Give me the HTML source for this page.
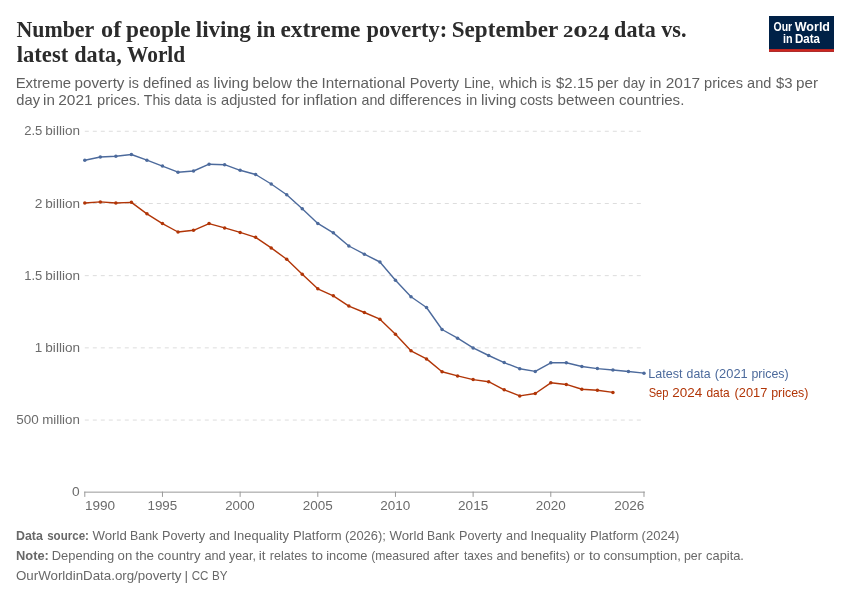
<!DOCTYPE html>
<html lang="en"><head><meta charset="utf-8"><title>Number of people living in extreme poverty</title>
<style>html,body{margin:0;padding:0;background:#fff;}svg{display:block;}
.ss{font-family:"Liberation Sans",sans-serif;}.sf{font-family:"Liberation Serif",serif;}</style></head>
<body>
<svg width="850" height="600" viewBox="0 0 850 600">
<rect width="850" height="600" fill="#ffffff"/>
<line x1="84.8" x2="644.2" y1="131.25" y2="131.25" stroke="#dddddd" stroke-width="1" stroke-dasharray="4 4"/>
<line x1="84.8" x2="644.2" y1="203.5" y2="203.5" stroke="#dddddd" stroke-width="1" stroke-dasharray="4 4"/>
<line x1="84.8" x2="644.2" y1="275.65" y2="275.65" stroke="#dddddd" stroke-width="1" stroke-dasharray="4 4"/>
<line x1="84.8" x2="644.2" y1="347.85" y2="347.85" stroke="#dddddd" stroke-width="1" stroke-dasharray="4 4"/>
<line x1="84.8" x2="644.2" y1="420.05" y2="420.05" stroke="#dddddd" stroke-width="1" stroke-dasharray="4 4"/>
<line x1="84.3" x2="644.8" y1="492.15" y2="492.15" stroke="#999999" stroke-width="1"/>
<line x1="84.80" x2="84.80" y1="491.65" y2="496.9" stroke="#999999" stroke-width="1"/>
<line x1="162.46" x2="162.46" y1="491.65" y2="496.9" stroke="#999999" stroke-width="1"/>
<line x1="240.13" x2="240.13" y1="491.65" y2="496.9" stroke="#999999" stroke-width="1"/>
<line x1="317.80" x2="317.80" y1="491.65" y2="496.9" stroke="#999999" stroke-width="1"/>
<line x1="395.46" x2="395.46" y1="491.65" y2="496.9" stroke="#999999" stroke-width="1"/>
<line x1="473.12" x2="473.12" y1="491.65" y2="496.9" stroke="#999999" stroke-width="1"/>
<line x1="550.79" x2="550.79" y1="491.65" y2="496.9" stroke="#999999" stroke-width="1"/>
<line x1="643.99" x2="643.99" y1="491.65" y2="496.9" stroke="#999999" stroke-width="1"/>
<rect x="769" y="16" width="65" height="35.8" fill="#002147"/>
<rect x="769" y="49.1" width="65" height="2.7" fill="#CE261E"/>
<polyline points="84.80,203.00 100.33,201.90 115.87,203.00 131.40,202.35 146.93,213.85 162.46,223.55 178.00,232.00 193.53,230.30 209.06,223.60 224.60,227.95 240.13,232.45 255.66,237.30 271.20,247.90 286.73,259.30 302.26,274.20 317.80,288.80 333.33,295.80 348.86,306.10 364.39,312.50 379.93,319.20 395.46,334.35 410.99,350.80 426.53,358.90 442.06,371.80 457.59,375.90 473.12,379.60 488.66,381.70 504.19,389.80 519.72,395.90 535.26,393.50 550.79,382.80 566.32,384.45 581.86,389.25 597.39,390.30 612.92,392.40" fill="none" stroke="#B13507" stroke-width="1.4" stroke-linejoin="round" stroke-linecap="round"/>
<circle cx="84.80" cy="203.00" r="1.75" fill="#B13507"/>
<circle cx="100.33" cy="201.90" r="1.75" fill="#B13507"/>
<circle cx="115.87" cy="203.00" r="1.75" fill="#B13507"/>
<circle cx="131.40" cy="202.35" r="1.75" fill="#B13507"/>
<circle cx="146.93" cy="213.85" r="1.75" fill="#B13507"/>
<circle cx="162.46" cy="223.55" r="1.75" fill="#B13507"/>
<circle cx="178.00" cy="232.00" r="1.75" fill="#B13507"/>
<circle cx="193.53" cy="230.30" r="1.75" fill="#B13507"/>
<circle cx="209.06" cy="223.60" r="1.75" fill="#B13507"/>
<circle cx="224.60" cy="227.95" r="1.75" fill="#B13507"/>
<circle cx="240.13" cy="232.45" r="1.75" fill="#B13507"/>
<circle cx="255.66" cy="237.30" r="1.75" fill="#B13507"/>
<circle cx="271.20" cy="247.90" r="1.75" fill="#B13507"/>
<circle cx="286.73" cy="259.30" r="1.75" fill="#B13507"/>
<circle cx="302.26" cy="274.20" r="1.75" fill="#B13507"/>
<circle cx="317.80" cy="288.80" r="1.75" fill="#B13507"/>
<circle cx="333.33" cy="295.80" r="1.75" fill="#B13507"/>
<circle cx="348.86" cy="306.10" r="1.75" fill="#B13507"/>
<circle cx="364.39" cy="312.50" r="1.75" fill="#B13507"/>
<circle cx="379.93" cy="319.20" r="1.75" fill="#B13507"/>
<circle cx="395.46" cy="334.35" r="1.75" fill="#B13507"/>
<circle cx="410.99" cy="350.80" r="1.75" fill="#B13507"/>
<circle cx="426.53" cy="358.90" r="1.75" fill="#B13507"/>
<circle cx="442.06" cy="371.80" r="1.75" fill="#B13507"/>
<circle cx="457.59" cy="375.90" r="1.75" fill="#B13507"/>
<circle cx="473.12" cy="379.60" r="1.75" fill="#B13507"/>
<circle cx="488.66" cy="381.70" r="1.75" fill="#B13507"/>
<circle cx="504.19" cy="389.80" r="1.75" fill="#B13507"/>
<circle cx="519.72" cy="395.90" r="1.75" fill="#B13507"/>
<circle cx="535.26" cy="393.50" r="1.75" fill="#B13507"/>
<circle cx="550.79" cy="382.80" r="1.75" fill="#B13507"/>
<circle cx="566.32" cy="384.45" r="1.75" fill="#B13507"/>
<circle cx="581.86" cy="389.25" r="1.75" fill="#B13507"/>
<circle cx="597.39" cy="390.30" r="1.75" fill="#B13507"/>
<circle cx="612.92" cy="392.40" r="1.75" fill="#B13507"/>
<polyline points="84.80,160.30 100.33,157.00 115.87,156.30 131.40,154.50 146.93,160.15 162.46,166.10 178.00,172.20 193.53,171.00 209.06,164.20 224.60,164.70 240.13,170.30 255.66,174.50 271.20,184.00 286.73,194.75 302.26,208.80 317.80,223.40 333.33,232.85 348.86,246.00 364.39,254.20 379.93,262.00 395.46,280.20 410.99,296.75 426.53,307.50 442.06,329.50 457.59,338.20 473.12,347.90 488.66,355.50 504.19,362.60 519.72,368.70 535.26,371.40 550.79,362.80 566.32,362.70 581.86,366.50 597.39,368.60 612.92,370.00 628.45,371.45 643.99,373.15" fill="none" stroke="#4C6A9C" stroke-width="1.4" stroke-linejoin="round" stroke-linecap="round"/>
<circle cx="84.80" cy="160.30" r="1.75" fill="#4C6A9C"/>
<circle cx="100.33" cy="157.00" r="1.75" fill="#4C6A9C"/>
<circle cx="115.87" cy="156.30" r="1.75" fill="#4C6A9C"/>
<circle cx="131.40" cy="154.50" r="1.75" fill="#4C6A9C"/>
<circle cx="146.93" cy="160.15" r="1.75" fill="#4C6A9C"/>
<circle cx="162.46" cy="166.10" r="1.75" fill="#4C6A9C"/>
<circle cx="178.00" cy="172.20" r="1.75" fill="#4C6A9C"/>
<circle cx="193.53" cy="171.00" r="1.75" fill="#4C6A9C"/>
<circle cx="209.06" cy="164.20" r="1.75" fill="#4C6A9C"/>
<circle cx="224.60" cy="164.70" r="1.75" fill="#4C6A9C"/>
<circle cx="240.13" cy="170.30" r="1.75" fill="#4C6A9C"/>
<circle cx="255.66" cy="174.50" r="1.75" fill="#4C6A9C"/>
<circle cx="271.20" cy="184.00" r="1.75" fill="#4C6A9C"/>
<circle cx="286.73" cy="194.75" r="1.75" fill="#4C6A9C"/>
<circle cx="302.26" cy="208.80" r="1.75" fill="#4C6A9C"/>
<circle cx="317.80" cy="223.40" r="1.75" fill="#4C6A9C"/>
<circle cx="333.33" cy="232.85" r="1.75" fill="#4C6A9C"/>
<circle cx="348.86" cy="246.00" r="1.75" fill="#4C6A9C"/>
<circle cx="364.39" cy="254.20" r="1.75" fill="#4C6A9C"/>
<circle cx="379.93" cy="262.00" r="1.75" fill="#4C6A9C"/>
<circle cx="395.46" cy="280.20" r="1.75" fill="#4C6A9C"/>
<circle cx="410.99" cy="296.75" r="1.75" fill="#4C6A9C"/>
<circle cx="426.53" cy="307.50" r="1.75" fill="#4C6A9C"/>
<circle cx="442.06" cy="329.50" r="1.75" fill="#4C6A9C"/>
<circle cx="457.59" cy="338.20" r="1.75" fill="#4C6A9C"/>
<circle cx="473.12" cy="347.90" r="1.75" fill="#4C6A9C"/>
<circle cx="488.66" cy="355.50" r="1.75" fill="#4C6A9C"/>
<circle cx="504.19" cy="362.60" r="1.75" fill="#4C6A9C"/>
<circle cx="519.72" cy="368.70" r="1.75" fill="#4C6A9C"/>
<circle cx="535.26" cy="371.40" r="1.75" fill="#4C6A9C"/>
<circle cx="550.79" cy="362.80" r="1.75" fill="#4C6A9C"/>
<circle cx="566.32" cy="362.70" r="1.75" fill="#4C6A9C"/>
<circle cx="581.86" cy="366.50" r="1.75" fill="#4C6A9C"/>
<circle cx="597.39" cy="368.60" r="1.75" fill="#4C6A9C"/>
<circle cx="612.92" cy="370.00" r="1.75" fill="#4C6A9C"/>
<circle cx="628.45" cy="371.45" r="1.75" fill="#4C6A9C"/>
<circle cx="643.99" cy="373.15" r="1.75" fill="#4C6A9C"/>
<text class="sf" y="36.60" font-size="23" font-weight="bold" fill="#2b2b2b"><tspan x="16.46" y="36.60" textLength="77.38" lengthAdjust="spacingAndGlyphs">Number</tspan> <tspan x="101.04" y="36.60" textLength="20.20" lengthAdjust="spacingAndGlyphs">of</tspan> <tspan x="126.00" y="36.60" textLength="64.71" lengthAdjust="spacingAndGlyphs">people</tspan> <tspan x="195.84" y="36.60" textLength="54.96" lengthAdjust="spacingAndGlyphs">living</tspan> <tspan x="256.44" y="36.60" textLength="18.97" lengthAdjust="spacingAndGlyphs">in</tspan> <tspan x="280.47" y="36.60" textLength="80.04" lengthAdjust="spacingAndGlyphs">extreme</tspan> <tspan x="366.50" y="36.60" textLength="80.65" lengthAdjust="spacingAndGlyphs">poverty:</tspan> <tspan x="451.72" y="36.60" textLength="106.23" lengthAdjust="spacingAndGlyphs">September</tspan> <tspan x="562.95" y="36.60" textLength="10.40" lengthAdjust="spacingAndGlyphs" font-size="16.5">2</tspan><tspan x="573.20" y="36.60" textLength="14.40" lengthAdjust="spacingAndGlyphs" font-size="16.5">0</tspan><tspan x="587.76" y="36.60" textLength="10.29" lengthAdjust="spacingAndGlyphs" font-size="16.5">2</tspan><tspan x="598.50" y="39.70" textLength="10.84" lengthAdjust="spacingAndGlyphs" font-size="21">4</tspan> <tspan x="614.11" y="36.60" textLength="41.69" lengthAdjust="spacingAndGlyphs">data</tspan> <tspan x="661.20" y="36.60" textLength="25.29" lengthAdjust="spacingAndGlyphs">vs.</tspan></text>
<text class="sf" y="61.90" font-size="23" font-weight="bold" fill="#2b2b2b"><tspan x="16.65" textLength="51.61" lengthAdjust="spacingAndGlyphs">latest</tspan> <tspan x="74.31" textLength="47.38" lengthAdjust="spacingAndGlyphs">data,</tspan> <tspan x="127.00" textLength="58.20" lengthAdjust="spacingAndGlyphs">World</tspan></text>
<text class="ss" y="87.70" font-size="15" fill="#5f5f5f"><tspan x="15.64" textLength="55.47" lengthAdjust="spacingAndGlyphs">Extreme</tspan> <tspan x="74.55" textLength="49.95" lengthAdjust="spacingAndGlyphs">poverty</tspan> <tspan x="128.60" textLength="10.34" lengthAdjust="spacingAndGlyphs">is</tspan> <tspan x="143.04" textLength="48.80" lengthAdjust="spacingAndGlyphs">defined</tspan> <tspan x="196.11" textLength="13.29" lengthAdjust="spacingAndGlyphs">as</tspan> <tspan x="213.53" textLength="35.34" lengthAdjust="spacingAndGlyphs">living</tspan> <tspan x="252.56" textLength="39.26" lengthAdjust="spacingAndGlyphs">below</tspan> <tspan x="296.50" textLength="21.63" lengthAdjust="spacingAndGlyphs">the</tspan> <tspan x="321.61" textLength="83.90" lengthAdjust="spacingAndGlyphs">International</tspan> <tspan x="409.87" textLength="49.13" lengthAdjust="spacingAndGlyphs">Poverty</tspan> <tspan x="463.90" textLength="30.66" lengthAdjust="spacingAndGlyphs">Line,</tspan> <tspan x="499.23" textLength="38.10" lengthAdjust="spacingAndGlyphs">which</tspan> <tspan x="541.15" textLength="9.77" lengthAdjust="spacingAndGlyphs">is</tspan> <tspan x="556.00" textLength="37.61" lengthAdjust="spacingAndGlyphs">$2.15</tspan> <tspan x="597.07" textLength="21.50" lengthAdjust="spacingAndGlyphs">per</tspan> <tspan x="623.08" textLength="21.92" lengthAdjust="spacingAndGlyphs">day</tspan> <tspan x="649.55" textLength="11.80" lengthAdjust="spacingAndGlyphs">in</tspan> <tspan x="665.78" textLength="34.35" lengthAdjust="spacingAndGlyphs">2017</tspan> <tspan x="704.09" textLength="38.87" lengthAdjust="spacingAndGlyphs">prices</tspan> <tspan x="747.05" textLength="24.27" lengthAdjust="spacingAndGlyphs">and</tspan> <tspan x="776.00" textLength="16.61" lengthAdjust="spacingAndGlyphs">$3</tspan> <tspan x="796.05" textLength="22.03" lengthAdjust="spacingAndGlyphs">per</tspan></text>
<text class="ss" y="105.40" font-size="15" fill="#5f5f5f"><tspan x="16.34" textLength="23.66" lengthAdjust="spacingAndGlyphs">day</tspan> <tspan x="43.05" textLength="11.80" lengthAdjust="spacingAndGlyphs">in</tspan> <tspan x="58.28" textLength="34.35" lengthAdjust="spacingAndGlyphs">2021</tspan> <tspan x="97.08" textLength="43.24" lengthAdjust="spacingAndGlyphs">prices.</tspan> <tspan x="143.78" textLength="26.66" lengthAdjust="spacingAndGlyphs">This</tspan> <tspan x="174.56" textLength="27.35" lengthAdjust="spacingAndGlyphs">data</tspan> <tspan x="206.65" textLength="9.77" lengthAdjust="spacingAndGlyphs">is</tspan> <tspan x="221.04" textLength="55.28" lengthAdjust="spacingAndGlyphs">adjusted</tspan> <tspan x="281.50" textLength="18.08" lengthAdjust="spacingAndGlyphs">for</tspan> <tspan x="303.01" textLength="54.37" lengthAdjust="spacingAndGlyphs">inflation</tspan> <tspan x="361.56" textLength="23.74" lengthAdjust="spacingAndGlyphs">and</tspan> <tspan x="389.54" textLength="71.92" lengthAdjust="spacingAndGlyphs">differences</tspan> <tspan x="466.10" textLength="11.21" lengthAdjust="spacingAndGlyphs">in</tspan> <tspan x="481.03" textLength="35.34" lengthAdjust="spacingAndGlyphs">living</tspan> <tspan x="520.06" textLength="33.19" lengthAdjust="spacingAndGlyphs">costs</tspan> <tspan x="557.55" textLength="57.30" lengthAdjust="spacingAndGlyphs">between</tspan> <tspan x="619.03" textLength="65.33" lengthAdjust="spacingAndGlyphs">countries.</tspan></text>
<text class="ss" y="135.30" font-size="12.85" fill="#6b6b6b"><tspan x="24.19" textLength="18.14" lengthAdjust="spacingAndGlyphs">2.5</tspan> <tspan x="45.35" textLength="34.61" lengthAdjust="spacingAndGlyphs">billion</tspan></text>
<text class="ss" y="207.55" font-size="12.85" fill="#6b6b6b"><tspan x="34.65" textLength="7.71" lengthAdjust="spacingAndGlyphs">2</tspan> <tspan x="45.35" textLength="34.61" lengthAdjust="spacingAndGlyphs">billion</tspan></text>
<text class="ss" y="279.70" font-size="12.85" fill="#6b6b6b"><tspan x="24.29" textLength="18.04" lengthAdjust="spacingAndGlyphs">1.5</tspan> <tspan x="45.35" textLength="34.61" lengthAdjust="spacingAndGlyphs">billion</tspan></text>
<text class="ss" y="351.90" font-size="12.85" fill="#6b6b6b"><tspan x="34.86" textLength="7.49" lengthAdjust="spacingAndGlyphs">1</tspan> <tspan x="45.35" textLength="34.61" lengthAdjust="spacingAndGlyphs">billion</tspan></text>
<text class="ss" y="424.10" font-size="12.85" fill="#6b6b6b"><tspan x="16.38" textLength="22.46" lengthAdjust="spacingAndGlyphs">500</tspan> <tspan x="42.17" textLength="37.68" lengthAdjust="spacingAndGlyphs">million</tspan></text>
<text class="ss" y="496.00" font-size="12.85" fill="#6b6b6b"><tspan x="72.07" textLength="7.67" lengthAdjust="spacingAndGlyphs">0</tspan></text>
<text class="ss" y="509.90" font-size="12.85" fill="#6b6b6b"><tspan x="84.95" textLength="30.19" lengthAdjust="spacingAndGlyphs">1990</tspan></text>
<text class="ss" y="509.90" font-size="12.85" fill="#6b6b6b"><tspan x="147.46" textLength="29.78" lengthAdjust="spacingAndGlyphs">1995</tspan></text>
<text class="ss" y="509.90" font-size="12.85" fill="#6b6b6b"><tspan x="225.18" textLength="29.55" lengthAdjust="spacingAndGlyphs">2000</tspan></text>
<text class="ss" y="509.90" font-size="12.85" fill="#6b6b6b"><tspan x="302.77" textLength="29.98" lengthAdjust="spacingAndGlyphs">2005</tspan></text>
<text class="ss" y="509.90" font-size="12.85" fill="#6b6b6b"><tspan x="380.27" textLength="30.07" lengthAdjust="spacingAndGlyphs">2010</tspan></text>
<text class="ss" y="509.90" font-size="12.85" fill="#6b6b6b"><tspan x="458.06" textLength="30.19" lengthAdjust="spacingAndGlyphs">2015</tspan></text>
<text class="ss" y="509.90" font-size="12.85" fill="#6b6b6b"><tspan x="535.77" textLength="29.97" lengthAdjust="spacingAndGlyphs">2020</tspan></text>
<text class="ss" y="509.90" font-size="12.85" fill="#6b6b6b"><tspan x="614.16" textLength="30.29" lengthAdjust="spacingAndGlyphs">2026</tspan></text>
<text class="ss" y="377.50" font-size="12.9" fill="#4C6A9C"><tspan x="648.22" textLength="34.24" lengthAdjust="spacingAndGlyphs">Latest</tspan> <tspan x="686.62" textLength="23.91" lengthAdjust="spacingAndGlyphs">data</tspan> <tspan x="714.80" textLength="32.93" lengthAdjust="spacingAndGlyphs">(2021</tspan> <tspan x="751.42" textLength="37.22" lengthAdjust="spacingAndGlyphs">prices)</tspan></text>
<text class="ss" y="396.50" font-size="12.9" fill="#B13507"><tspan x="648.65" textLength="19.80" lengthAdjust="spacingAndGlyphs">Sep</tspan> <tspan x="672.37" textLength="29.97" lengthAdjust="spacingAndGlyphs">2024</tspan> <tspan x="706.43" textLength="23.30" lengthAdjust="spacingAndGlyphs">data</tspan> <tspan x="734.50" textLength="32.82" lengthAdjust="spacingAndGlyphs">(2017</tspan> <tspan x="771.22" textLength="37.22" lengthAdjust="spacingAndGlyphs">prices)</tspan></text>
<text class="ss" y="540.30" font-size="13" font-weight="bold" fill="#686868"><tspan x="16.02" textLength="26.90" lengthAdjust="spacingAndGlyphs">Data</tspan> <tspan x="47.14" textLength="41.82" lengthAdjust="spacingAndGlyphs">source:</tspan> <tspan x="92.50" textLength="34.24" lengthAdjust="spacingAndGlyphs" font-weight="normal">World</tspan> <tspan x="130.03" textLength="28.28" lengthAdjust="spacingAndGlyphs" font-weight="normal">Bank</tspan> <tspan x="162.01" textLength="42.99" lengthAdjust="spacingAndGlyphs" font-weight="normal">Poverty</tspan> <tspan x="209.11" textLength="20.89" lengthAdjust="spacingAndGlyphs" font-weight="normal">and</tspan> <tspan x="233.49" textLength="55.51" lengthAdjust="spacingAndGlyphs" font-weight="normal">Inequality</tspan> <tspan x="292.98" textLength="48.70" lengthAdjust="spacingAndGlyphs" font-weight="normal">Platform</tspan> <tspan x="344.89" textLength="41.08" lengthAdjust="spacingAndGlyphs" font-weight="normal">(2026);</tspan> <tspan x="389.50" textLength="34.24" lengthAdjust="spacingAndGlyphs" font-weight="normal">World</tspan> <tspan x="427.05" textLength="27.76" lengthAdjust="spacingAndGlyphs" font-weight="normal">Bank</tspan> <tspan x="459.01" textLength="42.79" lengthAdjust="spacingAndGlyphs" font-weight="normal">Poverty</tspan> <tspan x="506.10" textLength="21.11" lengthAdjust="spacingAndGlyphs" font-weight="normal">and</tspan> <tspan x="530.48" textLength="55.72" lengthAdjust="spacingAndGlyphs" font-weight="normal">Inequality</tspan> <tspan x="589.98" textLength="48.49" lengthAdjust="spacingAndGlyphs" font-weight="normal">Platform</tspan> <tspan x="641.59" textLength="37.79" lengthAdjust="spacingAndGlyphs" font-weight="normal">(2024)</tspan></text>
<text class="ss" y="560.30" font-size="13" font-weight="bold" fill="#686868"><tspan x="16.00" textLength="32.87" lengthAdjust="spacingAndGlyphs">Note:</tspan> <tspan x="51.79" textLength="62.43" lengthAdjust="spacingAndGlyphs" font-weight="normal">Depending</tspan> <tspan x="117.59" textLength="14.65" lengthAdjust="spacingAndGlyphs" font-weight="normal">on</tspan> <tspan x="135.50" textLength="18.54" lengthAdjust="spacingAndGlyphs" font-weight="normal">the</tspan> <tspan x="157.59" textLength="42.91" lengthAdjust="spacingAndGlyphs" font-weight="normal">country</tspan> <tspan x="204.40" textLength="21.32" lengthAdjust="spacingAndGlyphs" font-weight="normal">and</tspan> <tspan x="229.00" textLength="26.93" lengthAdjust="spacingAndGlyphs" font-weight="normal">year,</tspan> <tspan x="258.65" textLength="6.80" lengthAdjust="spacingAndGlyphs" font-weight="normal">it</tspan> <tspan x="269.72" textLength="37.68" lengthAdjust="spacingAndGlyphs" font-weight="normal">relates</tspan> <tspan x="311.50" textLength="11.56" lengthAdjust="spacingAndGlyphs" font-weight="normal">to</tspan> <tspan x="326.20" textLength="41.32" lengthAdjust="spacingAndGlyphs" font-weight="normal">income</tspan> <tspan x="371.23" textLength="58.46" lengthAdjust="spacingAndGlyphs" font-weight="normal">(measured</tspan> <tspan x="433.40" textLength="25.66" lengthAdjust="spacingAndGlyphs" font-weight="normal">after</tspan> <tspan x="464.00" textLength="28.67" lengthAdjust="spacingAndGlyphs" font-weight="normal">taxes</tspan> <tspan x="496.40" textLength="21.11" lengthAdjust="spacingAndGlyphs" font-weight="normal">and</tspan> <tspan x="520.69" textLength="49.47" lengthAdjust="spacingAndGlyphs" font-weight="normal">benefits)</tspan> <tspan x="573.41" textLength="11.15" lengthAdjust="spacingAndGlyphs" font-weight="normal">or</tspan> <tspan x="589.00" textLength="11.56" lengthAdjust="spacingAndGlyphs" font-weight="normal">to</tspan> <tspan x="603.59" textLength="77.38" lengthAdjust="spacingAndGlyphs" font-weight="normal">consumption,</tspan> <tspan x="684.03" textLength="17.83" lengthAdjust="spacingAndGlyphs" font-weight="normal">per</tspan> <tspan x="706.10" textLength="37.86" lengthAdjust="spacingAndGlyphs" font-weight="normal">capita.</tspan></text>
<text class="ss" y="580.30" font-size="13" fill="#686868"><tspan x="15.98" textLength="165.52" lengthAdjust="spacingAndGlyphs">OurWorldinData.org/poverty</tspan> <tspan x="184.52" textLength="3.60" lengthAdjust="spacingAndGlyphs">|</tspan> <tspan x="191.66" textLength="16.75" lengthAdjust="spacingAndGlyphs">CC</tspan> <tspan x="212.09" textLength="15.53" lengthAdjust="spacingAndGlyphs">BY</tspan></text>
<text class="ss" y="30.70" font-size="12" font-weight="bold" fill="#ffffff"><tspan x="773.47" textLength="18.68" lengthAdjust="spacingAndGlyphs">Our</tspan> <tspan x="794.80" textLength="35.20" lengthAdjust="spacingAndGlyphs">World</tspan></text>
<text class="ss" y="42.60" font-size="12" font-weight="bold" fill="#ffffff"><tspan x="782.93" textLength="9.60" lengthAdjust="spacingAndGlyphs">in</tspan> <tspan x="794.88" textLength="25.05" lengthAdjust="spacingAndGlyphs">Data</tspan></text>
</svg>
</body></html>
